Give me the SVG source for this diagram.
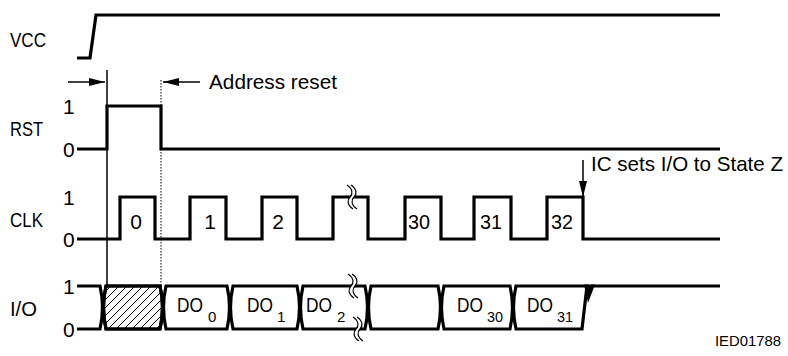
<svg xmlns="http://www.w3.org/2000/svg" width="788" height="356" viewBox="0 0 788 356">
<style>
.sig{fill:none;stroke:#000;stroke-width:3.2;stroke-linejoin:miter;stroke-linecap:butt}
.box{fill:#fff;stroke:#000;stroke-width:3.2}
.thin{fill:none;stroke:#000;stroke-width:1.5}
.dot{fill:none;stroke:#000;stroke-width:1;stroke-dasharray:1.5 1.5}
.hatch{stroke:#000;stroke-width:1}
text{font-family:"Liberation Sans",Arial,sans-serif;font-size:21px;fill:#000}
.sub{font-size:15px}
.mid{text-anchor:middle}
.brkfill{fill:#fff;stroke:none}
.brkline{fill:none;stroke:#000;stroke-width:1.2}
</style>
<defs>
<marker id="ah" viewBox="0 0 16 8" refX="16" refY="4" markerWidth="16" markerHeight="8" markerUnits="userSpaceOnUse" orient="auto">
<path d="M0,0 L16,4 L0,8 Z" fill="#000"/>
</marker>
<g id="brk">
<path class="brkfill" d="M-3,-12 C3,-8 3,-3 0,0 C-3,3 -3,8 3,12 L7,12 C1,8 1,3 4,0 C7,-3 7,-8 1,-12 Z"/>
<path class="brkline" d="M-3,-12 C3,-8 3,-3 0,0 C-3,3 -3,8 3,12"/>
<path class="brkline" d="M1,-12 C7,-8 7,-3 4,0 C1,3 1,8 7,12"/>
</g>
<clipPath id="hclip">
<path d="M106,286 H160 Q165,307.5 160,329 H106 Q101,307.5 106,286 Z"/>
</clipPath>
</defs>

<g id="labels">
<text x="10" y="47" textLength="36" lengthAdjust="spacingAndGlyphs">VCC</text>
<text x="10" y="136" textLength="33" lengthAdjust="spacingAndGlyphs">RST</text>
<text x="10" y="227" textLength="33" lengthAdjust="spacingAndGlyphs">CLK</text>
<text x="10" y="316" textLength="27" lengthAdjust="spacingAndGlyphs">I/O</text>
<text x="63" y="114">1</text>
<text x="63" y="157">0</text>
<text x="63" y="205">1</text>
<text x="63" y="247">0</text>
<text x="63" y="294">1</text>
<text x="63" y="337">0</text>
<text x="715" y="346" style="font-size:15px" textLength="66" lengthAdjust="spacingAndGlyphs">IED01788</text>
</g>

<g id="vcc">
<path class="sig" d="M77,58 H90 L96,15 H720"/>
</g>

<g id="rst">
<path class="sig" d="M77,149 H107 V106 H161 V149 H720"/>
</g>

<g id="clk">
<path class="sig" d="M77,239 H120 V197 H155 V239 H190 V197 H226 V239 H262 V197 H297 V239 H333 V197 H368 V239 H405 V197 H441 V239 H474 V197 H511 V239 H547 V197 H583 V239 H720"/>
<use href="#brk" x="350" y="197"/>
<text class="mid" x="136" y="229">0</text>
<text class="mid" x="210" y="229">1</text>
<text class="mid" x="278" y="229">2</text>
<text class="mid" x="419" y="229" textLength="22" lengthAdjust="spacingAndGlyphs">30</text>
<text class="mid" x="491" y="229" textLength="22" lengthAdjust="spacingAndGlyphs">31</text>
<text class="mid" x="562" y="229" textLength="22" lengthAdjust="spacingAndGlyphs">32</text>
</g>

<g id="io">
<path class="sig" d="M77,286 H100 Q105,307.5 100,329 H77"/>
<path class="box" d="M106,286 H160 Q165,307.5 160,329 H106 Q101,307.5 106,286 Z"/>
<g clip-path="url(#hclip)">
<path class="hatch" d="M60,329 L103,286 M68,329 L111,286 M76,329 L119,286 M84,329 L127,286 M92,329 L135,286 M100,329 L143,286 M108,329 L151,286 M116,329 L159,286 M124,329 L167,286 M132,329 L175,286 M140,329 L183,286 M148,329 L191,286 M156,329 L199,286"/>
</g>
<path d="M106,286 H160 Q165,307.5 160,329 H106 Q101,307.5 106,286 Z" style="fill:none;stroke:#000;stroke-width:3.2"/>
<path class="box" d="M166,286 H227 Q232,307.5 227,329 H166 Q161,307.5 166,286 Z"/>
<path class="box" d="M233,286 H297 Q302,307.5 297,329 H233 Q228,307.5 233,286 Z"/>
<path class="box" d="M303,286 H365 Q370,307.5 365,329 H303 Q298,307.5 303,286 Z"/>
<path class="box" d="M371,286 H438 Q443,307.5 438,329 H371 Q366,307.5 371,286 Z"/>
<path class="box" d="M444,286 H510 Q515,307.5 510,329 H444 Q439,307.5 444,286 Z"/>
<path class="box" d="M516,286 H587 L582,329 H516 Q511,307.5 516,286 Z"/>
<path d="M584,284.5 L595,284.5 L588,303 Z" fill="#000"/>
<path class="sig" d="M591,286 H720"/>
<use href="#brk" x="351" y="286"/>
<use href="#brk" x="356" y="329"/>
<text x="177" y="312" textLength="26" lengthAdjust="spacingAndGlyphs">DO</text><text class="sub" x="208" y="322">0</text>
<text x="247" y="312" textLength="26" lengthAdjust="spacingAndGlyphs">DO</text><text class="sub" x="277" y="322">1</text>
<text x="306" y="312" textLength="26" lengthAdjust="spacingAndGlyphs">DO</text><text class="sub" x="337" y="322">2</text>
<text x="457" y="312" textLength="26" lengthAdjust="spacingAndGlyphs">DO</text><text class="sub" x="487" y="322" textLength="16" lengthAdjust="spacingAndGlyphs">30</text>
<text x="527" y="312" textLength="26" lengthAdjust="spacingAndGlyphs">DO</text><text class="sub" x="557" y="322" textLength="16" lengthAdjust="spacingAndGlyphs">31</text>
</g>

<g id="connectors">
<path class="thin" d="M107,70 V286"/>
<path class="dot" d="M161,80 V286"/>
<path class="thin" d="M68,82 H105" marker-end="url(#ah)"/>
<path class="thin" d="M200,82 H163" marker-end="url(#ah)"/>
<path class="thin" d="M583,160 V197" marker-end="url(#ah)"/>
</g>

<g id="annotations">
<text x="209" y="89" textLength="128" lengthAdjust="spacingAndGlyphs">Address reset</text>
<text x="591" y="171" textLength="192" lengthAdjust="spacingAndGlyphs">IC sets I/O to State Z</text>
</g>
</svg>
